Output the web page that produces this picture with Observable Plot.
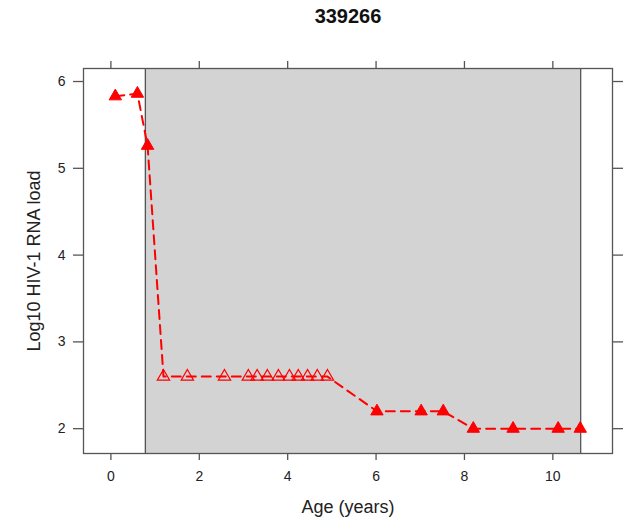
<!DOCTYPE html>
<html>
<head>
<meta charset="utf-8">
<script src="https://cdn.jsdelivr.net/npm/d3@7"></script>
<script src="https://cdn.jsdelivr.net/npm/@observablehq/plot@0.6"></script>
<style>
  html, body { margin: 0; padding: 0; background: #fff; }
  #chart svg { display: block; }
</style>
</head>
<body>
<div id="chart"></div>
<script>
const title = "339266";
const xLabel = "Age (years)";
const yLabel = "Log10 HIV-1 RNA load";
const ages = [0.1, 0.6, 0.83, 1.19, 1.73, 2.57, 3.11, 3.31, 3.54, 3.79, 4.04, 4.24, 4.45, 4.67, 4.90, 6.02, 7.02, 7.52, 8.2, 9.1, 10.12, 10.62];
const loads = [5.83, 5.86, 5.26, 2.6, 2.6, 2.6, 2.6, 2.6, 2.6, 2.6, 2.6, 2.6, 2.6, 2.6, 2.6, 2.2, 2.2, 2.2, 2.0, 2.0, 2.0, 2.0];
const detectable = [true, true, true, false, false, false, false, false, false, false, false, false, false, false, false, true, true, true, true, true, true, true];
const shadeStart = 0.78;
const shadeEnd = 10.63;
const xTicks = [0, 2, 4, 6, 8, 10];
const yTicks = [2, 3, 4, 5, 6];

const data = ages.map((a, i) => ({age: a, load: loads[i], det: detectable[i]}));
const filled = data.filter(d => d.det);
const open = data.filter(d => !d.det);

const font = "Liberation Sans, Arial, sans-serif";
const axisColor = "#555";
const noLabel = () => "";

const chart = Plot.plot({
  width: 644,
  height: 523,
  marginLeft: 83,
  marginRight: 32,
  marginTop: 68,
  marginBottom: 70,
  style: {fontFamily: font, fontSize: "13px", color: "#222", background: "#fff"},
  x: {domain: [-0.62, 11.35]},
  y: {domain: [1.714, 6.15]},
  marks: [
    Plot.rect([{x1: shadeStart, x2: shadeEnd}], {x1: "x1", x2: "x2", fill: "#d3d3d3"}),
    Plot.ruleX([shadeStart, shadeEnd], {stroke: axisColor, strokeWidth: 1.3}),
    Plot.frame({stroke: axisColor, strokeWidth: 1.3}),
    Plot.axisX(xTicks, {anchor: "bottom", tickSize: 7, tickPadding: 11, stroke: axisColor, strokeWidth: 1.3, label: null, fontSize: 14, fill: "#222", tickFormat: d => String(d)}),
    Plot.axisX(xTicks, {anchor: "top", tickSize: 8, tickFormat: noLabel, stroke: axisColor, strokeWidth: 1.3, label: null}),
    Plot.axisY(yTicks, {anchor: "left", tickSize: 10, tickPadding: 8, stroke: axisColor, strokeWidth: 1.3, label: null, fontSize: 14, fill: "#222", tickFormat: d => String(d)}),
    Plot.axisY(yTicks, {anchor: "right", tickSize: 10, tickFormat: noLabel, stroke: axisColor, strokeWidth: 1.3, label: null}),
    Plot.line(data, {x: "age", y: "load", stroke: "red", strokeWidth: 2, strokeDasharray: "9,6"}),
    Plot.dot(filled, {x: "age", y: "load", symbol: "triangle", r: 4.6, fill: "red", stroke: "red", strokeWidth: 1}),
    Plot.dot(open, {x: "age", y: "load", symbol: "triangle", r: 4.6, fill: "none", stroke: "red", strokeWidth: 1.2}),
    Plot.text([title], {frameAnchor: "top", lineAnchor: "middle", dy: -52, fontSize: 20, fontWeight: "bold", fill: "#111"}),
    Plot.text([xLabel], {frameAnchor: "bottom", lineAnchor: "middle", dy: 54, fontSize: 18, fill: "#222"}),
    Plot.text([yLabel], {frameAnchor: "left", dx: -49, rotate: -90, textAnchor: "middle", fontSize: 18, fill: "#222"})
  ]
});
document.getElementById("chart").appendChild(chart);
</script>
</body>
</html>
